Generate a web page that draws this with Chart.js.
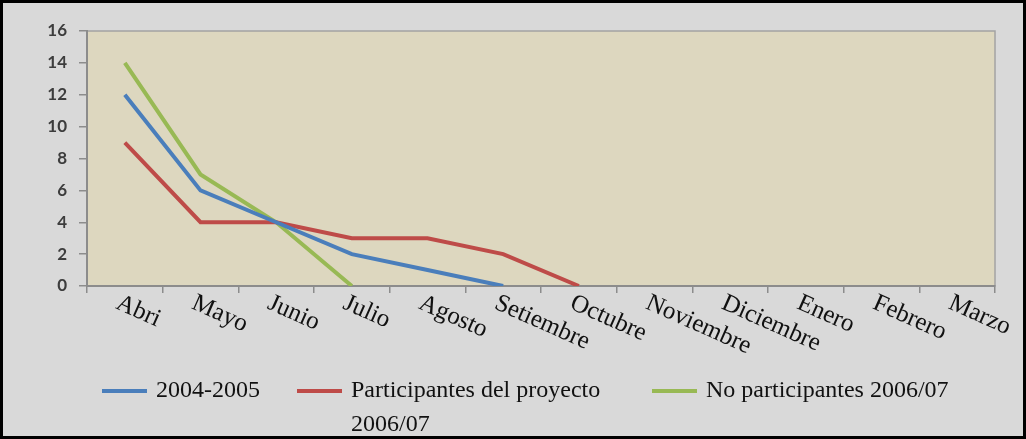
<!DOCTYPE html>
<html>
<head>
<meta charset="utf-8">
<script src="https://cdn.jsdelivr.net/npm/chart.js@4"></script>
<style>
  html, body { margin: 0; padding: 0; background: #d9d9d9; }
  #wrap { width: 1026px; height: 439px; box-sizing: border-box; border: 3px solid #000; background: #d9d9d9; }
  #wrap canvas { display: block; }
</style>
</head>
<body>
<div id="wrap"><canvas id="meses"></canvas></div>
<script>
const meses = ['Abri', 'Mayo', 'Junio', 'Julio', 'Agosto', 'Setiembre', 'Octubre', 'Noviembre', 'Diciembre', 'Enero', 'Febrero', 'Marzo'];
const serie2004 = [12, 6, 4, 2, 1, 0, null, null, null, null, null, null];
const participantes = [9, 4, 4, 3, 3, 2, 0, null, null, null, null, null];
const noParticipantes = [14, 7, 4, 0, null, null, null, null, null, null, null, null];
const yTicks = [0, 2, 4, 6, 8, 10, 12, 14, 16];

const serif = '"Liberation Serif", "DejaVu Serif", serif';

// beige plot area with a thin frame
const plotFondo = {
  id: 'plotFondo',
  beforeDraw(chart) {
    const a = chart.chartArea, c = chart.ctx;
    c.save();
    c.fillStyle = '#ddd7bf';
    c.fillRect(a.left, a.top, a.right - a.left, a.bottom - a.top);
    c.strokeStyle = '#a3a3a3';
    c.lineWidth = 1.5;
    c.strokeRect(a.left, a.top, a.right - a.left, a.bottom - a.top);
    c.restore();
  }
};

// month names slanted downwards, like the original
const etiquetasX = {
  id: 'etiquetasX',
  afterDraw(chart) {
    const x = chart.scales.x, c = chart.ctx;
    c.save();
    c.font = '25px ' + serif;
    c.fillStyle = '#111';
    c.textAlign = 'left';
    c.textBaseline = 'alphabetic';
    x.ticks.forEach((t, i) => {
      const px = x.getPixelForTick(i);
      c.save();
      c.translate(px - 10, x.top + 22);
      c.rotate(24 * Math.PI / 180);
      c.fillText(x.getLabelForValue(t.value), 0, 0);
      c.restore();
    });
    c.restore();
  }
};

// legend at the bottom, red label wraps onto a second line
const leyenda = {
  id: 'leyenda',
  afterDraw(chart) {
    const c = chart.ctx;
    const posX = [99, 294, 649];
    const y = 388;
    c.save();
    c.font = '24px ' + serif;
    c.fillStyle = '#111';
    c.textBaseline = 'middle';
    chart.data.datasets.forEach((ds, i) => {
      c.strokeStyle = ds.borderColor;
      c.lineWidth = 4;
      c.beginPath();
      c.moveTo(posX[i], y);
      c.lineTo(posX[i] + 45, y);
      c.stroke();
      const lineas = Array.isArray(ds.leyenda) ? ds.leyenda : [ds.label];
      lineas.forEach((l, k) => c.fillText(l, posX[i] + 54, y + k * 34));
    });
    c.restore();
  }
};

const ctx = document.getElementById('meses');
const grafico = new Chart(ctx, {
  type: 'line',
  data: {
    labels: meses,
    datasets: [{
      label: '2004-2005',
      data: serie2004,
      borderColor: '#4a7ebb',
      backgroundColor: '#4a7ebb'
    }, {
      label: 'Participantes del proyecto 2006/07',
      leyenda: ['Participantes del proyecto', '2006/07'],
      data: participantes,
      borderColor: '#be4b48',
      backgroundColor: '#be4b48'
    }, {
      label: 'No participantes 2006/07',
      data: noParticipantes,
      borderColor: '#98b954',
      backgroundColor: '#98b954'
    }]
  },
  options: {
    responsive: true,
    maintainAspectRatio: false,
    animation: false,
    spanGaps: false,
    elements: {
      line: { borderWidth: 4, tension: 0 },
      point: { radius: 0, hoverRadius: 0 }
    },
    layout: { padding: { top: 28, right: 28, bottom: 0, left: 0 } },
    plugins: {
      legend: { display: false },
      tooltip: { enabled: false }
    },
    scales: {
      x: {
        offset: true,
        grid: { offset: true, drawOnChartArea: false, tickLength: 7, color: '#8c8c8c', lineWidth: 1.5 },
        border: { color: '#8c8c8c', width: 2 },
        ticks: { display: false },
        afterFit(s) { s.height = 150; }
      },
      y: {
        min: 0,
        max: 16,
        afterBuildTicks(s) { s.ticks = yTicks.map(v => ({ value: v })); },
        grid: { drawOnChartArea: false, tickLength: 8, color: '#8c8c8c', lineWidth: 1.5 },
        border: { color: '#8c8c8c', width: 2 },
        ticks: {
          padding: 12,
          color: '#3d3d3d',
          font: { family: 'Lato, "Open Sans", sans-serif', size: 17, weight: 'bold' }
        },
        afterFit(s) { s.width = 84; }
      }
    }
  },
  plugins: [plotFondo, etiquetasX, leyenda]
});
</script>
</body>
</html>
